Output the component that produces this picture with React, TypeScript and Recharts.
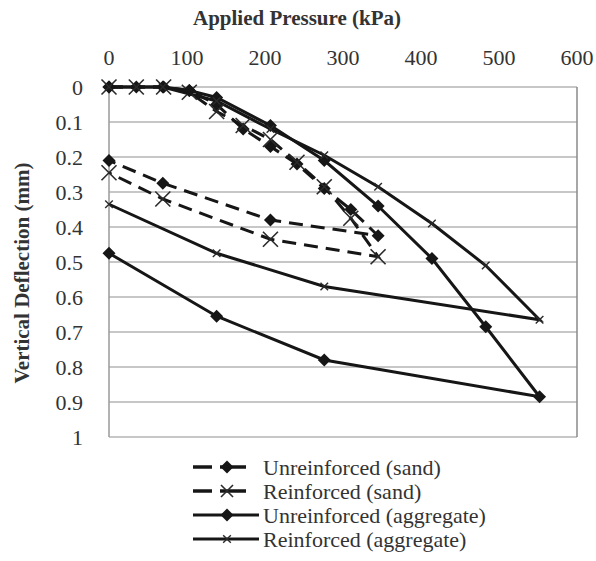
import React from 'react';
import { LineChart, Line, XAxis, YAxis, CartesianGrid, ReferenceLine } from 'recharts';

// axis ticks
const pressureTicks = [0, 100, 200, 300, 400, 500, 600];
const deflectionTicks = [0, 0.1, 0.2, 0.3, 0.4, 0.5, 0.6, 0.7, 0.8, 0.9, 1];

// load / unload loops, pressure in kPa, deflection in mm
const sandUnreinfP = [0, 35, 70, 103, 138, 172, 207, 241, 276, 310, 345, 207, 69, 0];
const sandUnreinfD = [0, 0, 0, 0.01, 0.05, 0.12, 0.17, 0.22, 0.29, 0.35, 0.425, 0.38, 0.275, 0.21];

const sandReinfP = [0, 35, 70, 103, 138, 172, 207, 241, 276, 310, 345, 207, 69, 0];
const sandReinfD = [0, 0, 0, 0.015, 0.07, 0.11, 0.15, 0.215, 0.285, 0.375, 0.485, 0.435, 0.32, 0.245];

const aggUnreinfP = [0, 69, 103, 138, 207, 276, 345, 414, 483, 552, 276, 138, 0];
const aggUnreinfD = [0, 0, 0.01, 0.03, 0.11, 0.21, 0.34, 0.49, 0.685, 0.885, 0.78, 0.655, 0.475];

const aggReinfP = [0, 69, 138, 207, 276, 345, 414, 483, 552, 276, 138, 0];
const aggReinfD = [0, 0, 0.04, 0.12, 0.195, 0.285, 0.39, 0.51, 0.665, 0.57, 0.475, 0.335];

const seriesNames = [
  'Unreinforced (sand)',
  'Reinforced (sand)',
  'Unreinforced (aggregate)',
  'Reinforced (aggregate)',
];

const toPoints = (p: number[], d: number[]) => p.map((x, i) => ({ x, y: d[i] }));

const INK = '#161616';
const TEXT = '#333';
const FONT = '"Liberation Serif", "Times New Roman", serif';

const Diamond = ({ cx, cy, r = 6.5 }: any) => (
  <polygon points={`${cx},${cy - r} ${cx + r},${cy} ${cx},${cy + r} ${cx - r},${cy}`} fill={INK} />
);

const Cross = ({ cx, cy, r = 7.5, w = 1.6 }: any) => (
  <g stroke="#2a2a2a" strokeWidth={w}>
    <line x1={cx - r} y1={cy - r} x2={cx + r} y2={cy + r} />
    <line x1={cx - r} y1={cy + r} x2={cx + r} y2={cy - r} />
  </g>
);

const diamondDot = (props: any) => <Diamond key={props.index} cx={props.cx} cy={props.cy} />;
const bigCrossDot = (props: any) => <Cross key={props.index} cx={props.cx} cy={props.cy} />;
const smallCrossDot = (props: any) => <Cross key={props.index} cx={props.cx} cy={props.cy} r={3.8} w={1.4} />;

const series = [
  { name: seriesNames[0], data: toPoints(sandUnreinfP, sandUnreinfD), dash: '14 8', dot: diamondDot, kind: 'diamond' },
  { name: seriesNames[1], data: toPoints(sandReinfP, sandReinfD), dash: '14 8', dot: bigCrossDot, kind: 'big' },
  { name: seriesNames[2], data: toPoints(aggUnreinfP, aggUnreinfD), dash: undefined, dot: diamondDot, kind: 'diamond' },
  { name: seriesNames[3], data: toPoints(aggReinfP, aggReinfD), dash: undefined, dot: smallCrossDot, kind: 'small' },
];

const fmtDeflection = (v: number) => (v === 0 || v === 1 ? String(v) : v.toFixed(1));

const YTitle = () => (
  <text
    x={22}
    y={273}
    transform="rotate(-90 22 273)"
    textAnchor="middle"
    dominantBaseline="central"
    fontFamily={FONT}
    fontSize={21}
    fontWeight="bold"
    fill={TEXT}
  >
    Vertical Deflection (mm)
  </text>
);

function LegendBox() {
  const rowY = [467, 491, 515, 539];
  return (
    <svg width={596} height={561} style={{ position: 'absolute', left: 0, top: 0, pointerEvents: 'none' }}>
      {series.map((s, i) => {
        const y = rowY[i];
        return (
          <g key={s.name}>
            {s.dash ? (
              <g stroke={INK} strokeWidth={3.5}>
                <line x1={193} y1={y} x2={212} y2={y} />
                <line x1={220} y1={y} x2={246} y2={y} />
              </g>
            ) : (
              <line x1={193} y1={y} x2={259} y2={y} stroke={INK} strokeWidth={3} />
            )}
            {s.kind === 'diamond' && <Diamond cx={227} cy={y} />}
            {s.kind === 'big' && <Cross cx={227} cy={y} r={6} />}
            {s.kind === 'small' && <Cross cx={227} cy={y} r={3.8} w={1.4} />}
            <text x={263} y={y} dominantBaseline="central" fontFamily={FONT} fontSize={22} fill={TEXT}>
              {s.name}
            </text>
          </g>
        );
      })}
    </svg>
  );
}

export default function App() {
  return (
    <div style={{ position: 'absolute', left: 0, top: 0, width: 596, height: 561, background: '#fff' }}>
      <LineChart width={596} height={561} margin={{ top: 47, right: 19, bottom: 124, left: 49 }}>
        <CartesianGrid vertical={false} stroke="#b5b5b5" strokeWidth={1.5} />
        <XAxis
          type="number"
          dataKey="x"
          orientation="top"
          domain={[0, 600]}
          ticks={pressureTicks}
          height={40}
          axisLine={false}
          tickLine={false}
          tickMargin={16}
          tick={{ fontFamily: FONT, fontSize: 22, fill: TEXT }}
          label={{
            value: 'Applied Pressure (kPa)',
            position: 'top',
            offset: 22,
            dx: -46,
            style: { fontFamily: FONT, fontSize: 21, fontWeight: 'bold', fill: TEXT },
          }}
        />
        <YAxis
          type="number"
          reversed
          domain={[0, 1]}
          ticks={deflectionTicks}
          tickFormatter={fmtDeflection}
          width={60}
          axisLine={{ stroke: '#9a9a9a', strokeWidth: 1.5 }}
          tickLine={false}
          tickMargin={20}
          tick={{ fontFamily: FONT, fontSize: 22, fill: TEXT }}
          label={{ content: YTitle }}
        />
        <ReferenceLine x={600} stroke="#8a8a8a" strokeWidth={1.5} />
        {series.map((s) => (
          <Line
            key={s.name}
            name={s.name}
            data={s.data}
            dataKey="y"
            type="linear"
            stroke={INK}
            strokeWidth={3}
            strokeDasharray={s.dash}
            dot={s.dot}
            activeDot={false}
            isAnimationActive={false}
          />
        ))}
      </LineChart>
      <LegendBox />
    </div>
  );
}
